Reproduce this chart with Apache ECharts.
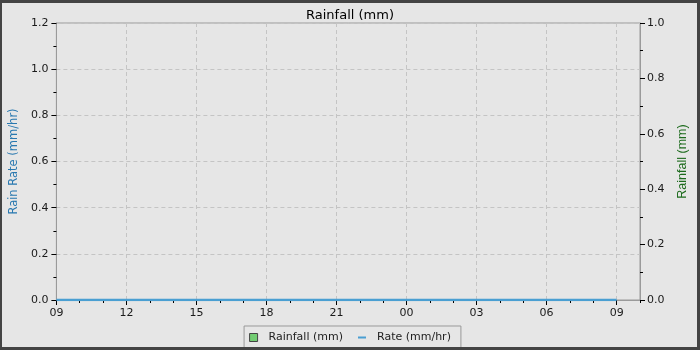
<!DOCTYPE html>
<html>
<head>
<meta charset="utf-8">
<script src="https://cdn.jsdelivr.net/npm/echarts@6/dist/echarts.min.js"></script>
<style>
html,body{margin:0;padding:0;background:#e6e6e6;}
#wrap{position:relative;width:700px;height:350px;}
#chart{position:absolute;left:0;top:0;width:700px;height:350px;}
#frame{position:absolute;left:0;top:0;width:700px;height:350px;box-sizing:border-box;border:3px solid #444;border-left-width:2px;pointer-events:none;}
</style>
</head>
<body>
<div id="wrap"><div id="chart"></div><div id="frame"></div></div>
<script>
// Hours since 09:00 on the first day
const hours = [0,1,2,3,4,5,6,7,8,9,10,11,12,13,14,15,16,17,18,19,20,21,22,23,24];
const rateValues = [0,0,0,0,0,0,0,0,0,0,0,0,0,0,0,0,0,0,0,0,0,0,0,0,0];
const rainfallValues = [0,0,0,0,0,0,0,0,0,0,0,0,0,0,0,0,0,0,0,0,0,0,0,0,0];
const xTickLabels = ['09','12','15','18','21','00','03','06','09'];
const seriesNames = ['Rainfall (mm)', 'Rate (mm/hr)'];
const titleText = 'Rainfall (mm)';
const leftAxisName = 'Rain Rate (mm/hr)';
const rightAxisName = 'Rainfall (mm)';

const font = 'DejaVu Sans';
const chart = echarts.init(document.getElementById('chart'), null, {renderer:'canvas'});
const labelColor = '#1a1a1a';
const dashed = {show:true, lineStyle:{color:'#c4c4c4', type:[4,3], width:1}};
const rateColor = '#4a9fd2';

chart.setOption({
  backgroundColor:'#e6e6e6',
  animation:false,
  textStyle:{fontFamily:font},
  title:{text:titleText, left:'center', top:4, textStyle:{fontFamily:font, fontSize:13, fontWeight:'normal', color:'#000'}},
  grid:{left:55, right:60, top:23, bottom:50, show:true, borderColor:'#9a9a9a', borderWidth:1, backgroundColor:'transparent'},
  legend:{
    data:[
      {name:seriesNames[0], icon:'rect', itemStyle:{color:'#72cc72', borderColor:'#444', borderWidth:1}},
      {name:seriesNames[1], icon:'path://M0,0 L8,0 L8,2 L0,2 Z', itemStyle:{color:rateColor, borderWidth:0}}
    ],
    symbolKeepAspect:true,
    left:'center', top:326, itemWidth:8, itemHeight:8, itemGap:15,
    padding:[6,10,6,5], borderColor:'#999', borderWidth:1, backgroundColor:'#e6e6e6',
    textStyle:{fontFamily:font, fontSize:11, color:'#222', padding:[0,0,0,6]}
  },
  xAxis:[
    {type:'value', min:0, max:25, interval:3, position:'bottom',
     axisLine:{show:true, onZero:false, lineStyle:{color:'#9a9a9a'}},
     axisTick:{show:true, length:5, lineStyle:{color:'#000'}},
     axisLabel:{fontFamily:font, fontSize:11, color:labelColor, margin:8, showMaxLabel:false,
       formatter:function(v){ return (v % 3 === 0 && xTickLabels[v/3] !== undefined) ? xTickLabels[v/3] : ''; }},
     splitLine:dashed},
    {type:'value', min:0, max:25, interval:1, position:'bottom', offset:0,
     axisLine:{show:false, onZero:false}, axisLabel:{show:false}, splitLine:{show:false},
     axisTick:{show:true, length:3, lineStyle:{color:'#000'}}}
  ],
  yAxis:[
    {type:'value', min:0, max:1.2, interval:0.2, position:'left',
     name:leftAxisName, nameLocation:'middle', nameRotate:90, nameGap:35,
     nameTextStyle:{fontFamily:font, fontSize:11.5, color:'#2878b0'},
     axisLine:{show:true, onZero:false, lineStyle:{color:'#9a9a9a'}},
     axisTick:{show:true, length:5, lineStyle:{color:'#000'}},
     minorTick:{show:true, splitNumber:2, length:3, lineStyle:{color:'#000'}},
     axisLabel:{fontFamily:font, fontSize:11, color:labelColor, margin:8, formatter:function(v){return v.toFixed(1);}},
     splitLine:dashed},
    {type:'value', min:0, max:1.0, interval:0.2, position:'right',
     name:rightAxisName, nameLocation:'middle', nameRotate:90, nameGap:36,
     nameTextStyle:{fontFamily:'Liberation Sans', fontSize:12.5, color:'#1d6b1d'},
     axisLine:{show:true, onZero:false, lineStyle:{color:'#9a9a9a'}},
     axisTick:{show:true, length:5, lineStyle:{color:'#000'}},
     minorTick:{show:true, splitNumber:2, length:3, lineStyle:{color:'#000'}},
     axisLabel:{fontFamily:font, fontSize:11, color:labelColor, margin:7, formatter:function(v){return v.toFixed(1);}},
     splitLine:{show:false}}
  ],
  series:[
    {name:seriesNames[0], type:'bar', xAxisIndex:0, yAxisIndex:1,
     data:hours.map(function(h,i){return [h, rainfallValues[i]];}),
     barWidth:16, itemStyle:{color:'#72cc72', borderWidth:0}},
    {name:seriesNames[1], type:'line', xAxisIndex:0, yAxisIndex:0,
     data:hours.map(function(h,i){return [h, rateValues[i]];}),
     showSymbol:false, lineStyle:{color:rateColor, width:2.5}, itemStyle:{color:rateColor}}
  ]
});
</script>
</body>
</html>
